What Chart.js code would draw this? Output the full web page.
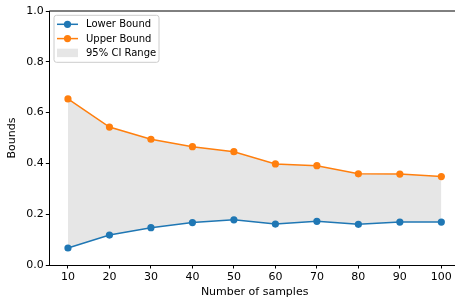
<!DOCTYPE html>
<html>
<head>
<meta charset="utf-8">
<script src="https://cdn.jsdelivr.net/npm/chart.js@4.4.1/dist/chart.umd.min.js"></script>
<style>
html,body{margin:0;padding:0;overflow:hidden;background:#ffffff;}
#wrap{width:470px;height:302px;}
</style>
</head>
<body>
<div id="wrap"><canvas id="c" width="470" height="302"></canvas></div>
<script>
// ---- data ----
const samples = [10, 20, 30, 40, 50, 60, 70, 80, 90, 100];
const lowerBound = [0.067, 0.118, 0.147, 0.167, 0.178, 0.161, 0.172, 0.160, 0.169, 0.169];
const upperBound = [0.654, 0.543, 0.495, 0.466, 0.446, 0.398, 0.391, 0.359, 0.358, 0.348];
const xTickValues = [10, 20, 30, 40, 50, 60, 70, 80, 90, 100];
const yTickValues = [0.0, 0.2, 0.4, 0.6, 0.8, 1.0];
const seriesNames = ['Lower Bound', 'Upper Bound', '95% CI Range'];
const xLabel = 'Number of samples';
const yLabel = 'Bounds';

const BLUE = '#1f77b4', ORANGE = '#ff7f0e', FILL = 'rgba(128,128,128,0.2)';
const FONT = "'DejaVu Sans', sans-serif";

const toPts = ys => samples.map((x, i) => ({x: x, y: ys[i]}));

Chart.defaults.font.family = FONT;
Chart.defaults.font.size = 11;
Chart.defaults.color = '#000';

// top / right spines
const spines = {
  id: 'spines',
  afterDraw(chart) {
    const a = chart.chartArea, ctx = chart.ctx;
    ctx.save();
    ctx.strokeStyle = '#000';
    ctx.lineWidth = 1;
    ctx.beginPath();
    ctx.moveTo(a.left, a.top); ctx.lineTo(a.right, a.top);
    ctx.moveTo(a.right, a.top); ctx.lineTo(a.right, a.bottom);
    ctx.stroke();
    ctx.restore();
  }
};

// matplotlib-style legend inside the axes (upper left)
const mplLegend = {
  id: 'mplLegend',
  afterDraw(chart) {
    const ctx = chart.ctx, a = chart.chartArea;
    const ds = chart.data.datasets;
    const x0 = a.left + 4.7, y0 = a.top + 4.3, w = 105, h = 47;
    ctx.save();
    ctx.beginPath();
    if (ctx.roundRect) ctx.roundRect(x0, y0, w, h, 2.5); else ctx.rect(x0, y0, w, h);
    ctx.fillStyle = 'rgba(255,255,255,0.8)';
    ctx.fill();
    ctx.strokeStyle = '#cccccc';
    ctx.lineWidth = 1;
    ctx.stroke();
    ctx.font = '10px ' + FONT;
    ctx.textBaseline = 'middle';
    ctx.textAlign = 'left';
    const hx0 = x0 + 3, hx1 = x0 + 24, tx = x0 + 32;
    ds.forEach((d, i) => {
      const cy = y0 + 9 + i * 14.3;
      if (d.fill === false) {
        ctx.strokeStyle = d.borderColor;
        ctx.lineWidth = d.borderWidth;
        ctx.beginPath(); ctx.moveTo(hx0, cy); ctx.lineTo(hx1, cy); ctx.stroke();
        ctx.fillStyle = d.pointBackgroundColor;
        ctx.beginPath(); ctx.arc((hx0 + hx1) / 2, cy, d.pointRadius, 0, Math.PI * 2); ctx.fill();
      } else {
        ctx.fillStyle = d.backgroundColor;
        ctx.fillRect(hx0, cy - 4.2, hx1 - hx0, 8.4);
      }
      ctx.fillStyle = '#000';
      ctx.fillText(d.label, tx, cy + 0.5);
    });
    ctx.restore();
  }
};

new Chart(document.getElementById('c'), {
  type: 'line',
  data: {
    datasets: [
      {
        label: seriesNames[0], data: toPts(lowerBound),
        borderColor: BLUE, backgroundColor: BLUE, pointBackgroundColor: BLUE,
        borderWidth: 1.5, pointRadius: 3.6, pointBorderWidth: 0, pointHoverRadius: 3.6,
        fill: false, tension: 0
      },
      {
        label: seriesNames[1], data: toPts(upperBound),
        borderColor: ORANGE, backgroundColor: ORANGE, pointBackgroundColor: ORANGE,
        borderWidth: 1.5, pointRadius: 3.6, pointBorderWidth: 0, pointHoverRadius: 3.6,
        fill: false, tension: 0
      },
      {
        label: seriesNames[2], data: toPts(upperBound),
        borderColor: 'rgba(0,0,0,0)', backgroundColor: FILL,
        borderWidth: 0, pointRadius: 0, pointHoverRadius: 0,
        fill: 0, tension: 0
      }
    ]
  },
  options: {
    responsive: false,
    animation: false,
    devicePixelRatio: 1,
    layout: {padding: {top: 11, right: 10, left: 0, bottom: 0}},
    plugins: {
      legend: {display: false},
      tooltip: {enabled: false},
      filler: {propagate: false}
    },
    scales: {
      x: {
        type: 'linear',
        min: 5.5, max: 104.5,
        afterBuildTicks: s => { s.ticks = xTickValues.map(v => ({value: v})); },
        afterFit: s => { s.height = 37; },
        grid: {display: true, drawOnChartArea: false, drawTicks: true, tickLength: 3.5, tickColor: '#000', tickWidth: 1},
        border: {display: true, color: '#000', width: 1},
        ticks: {padding: 2, color: '#000', font: {size: 11}, maxRotation: 0, autoSkip: false,
                callback: v => String(v)},
        title: {display: true, text: xLabel, color: '#000', font: {size: 11}, padding: {top: 0, bottom: 3}}
      },
      y: {
        type: 'linear',
        min: 0, max: 1,
        afterBuildTicks: s => { s.ticks = yTickValues.map(v => ({value: v})); },
        afterFit: s => { s.width = 49.3; },
        grid: {display: true, drawOnChartArea: false, drawTicks: true, tickLength: 3.5, tickColor: '#000', tickWidth: 1},
        border: {display: true, color: '#000', width: 1},
        ticks: {padding: 2, color: '#000', font: {size: 11}, autoSkip: false,
                callback: v => Number(v).toFixed(1)},
        title: {display: true, text: yLabel, color: '#000', font: {size: 11}, padding: {top: 6, bottom: 0}}
      }
    }
  },
  plugins: [spines, mplLegend]
});
</script>
</body>
</html>
